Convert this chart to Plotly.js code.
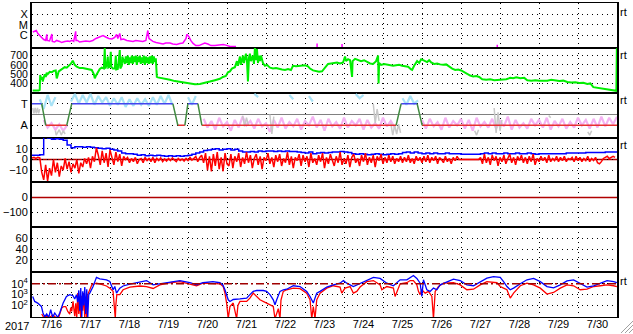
<!DOCTYPE html>
<html><head><meta charset="utf-8">
<script src="https://cdn.plot.ly/plotly-3.0.1.min.js"></script>
<style>html,body{margin:0;padding:0;background:#fff;overflow:hidden}#chart{width:633px;height:334px}</style>
</head><body><div id="chart"></div>
<script>
// ---------- axis labels ----------
const labelDays = [16,17,18,19,20,21,22,23,24,25,26,27,28,29,30];   // July days
const yearLabel = '2017';
const xrayTickVals = [1e-4, 1e-5, 1e-6];
const xrayTickText = ['X', 'M', 'C'];
const windTicks = [400, 500, 600, 700];
const sectorTickVals = [1, -1];
const sectorTickText = ['T', 'A'];
const imfTicks = [10, 0, -10];
const dstTicks = [0, -100];
const kpTicks = [20, 40, 60];
const elecTickVals = [100, 1000, 10000];
const elecTickText = ['10<sup>2</sup>', '10<sup>3</sup>', '10<sup>4</sup>'];
const electronAlert = 10000;
const zeroLevel = 0;

// panels 5 and 6 carry no data in this period
const dstDay = [], dstValue = [];
const kpDay = [], kpValue = [];

// ---------- X-ray flux (W/m2), time = day of July ----------
const xrayDay = [16.02,16.07,16.11,16.15,16.20,16.25,16.30,16.35,16.38,16.39,
 16.45,16.51,16.52,16.58,16.63,16.71,16.76,16.84,16.92,16.97,
 17.02,17.07,17.12,17.13,17.17,17.22,17.30,17.38,17.48,17.56,
 17.64,17.74,17.82,17.89,17.97,18.05,18.12,18.17,18.20,18.25,
 18.28,18.35,18.43,18.51,18.59,18.66,18.76,18.84,18.92,18.97,
 19.00,19.05,19.10,19.18,19.28,19.36,19.43,19.54,19.61,19.71,
 19.79,19.87,19.95,19.97,20.02,20.07,20.13,20.20,20.28,20.36,
 20.43,20.51,20.59,20.69,20.79,20.90,20.97,21.08,21.23];
const xrayFlux = [2.0e-6,2.3e-6,2.8e-6,1.45e-6,8.5e-7,6e-7,3.8e-7,3.1e-7,1.2e-6,3.1e-7,
 2.8e-7,1.3e-6,2.5e-7,2.2e-7,3.1e-7,2.5e-7,1.95e-7,2.5e-7,2.8e-7,2.5e-7,
 3.1e-7,2.5e-7,2.3e-6,3.1e-7,3.1e-7,2.2e-7,2.5e-7,2.8e-7,2.5e-7,3.1e-7,
 4.8e-7,7.5e-7,9.3e-7,6.7e-7,4.8e-7,4.3e-7,6e-7,1.2e-6,4.8e-7,1.45e-6,
 3.8e-7,4.3e-7,3.1e-7,2.8e-7,2.5e-7,3.1e-7,2.8e-7,2.5e-7,3.1e-7,2.8e-6,
 4.8e-7,3.1e-7,2.5e-7,1.95e-7,1.6e-7,1.4e-7,1.75e-7,1.75e-7,1.4e-7,1.26e-7,
 1.6e-7,1.75e-7,4.8e-7,1.2e-6,7.5e-7,3.1e-7,1.6e-7,1e-7,1e-7,1.4e-7,
 1.75e-7,1.4e-7,1e-7,1e-7,1.1e-7,1.26e-7,1.1e-7,8e-8,8e-8];
const xrayBlipDay = [23.31,23.31,null,23.95,23.95,null,27.93,27.93];
const xrayBlipFlux = [1.6e-7,7e-8,null,1.4e-7,7e-8,null,1.2e-7,7e-8];

// ---------- Solar wind speed (km/s) ----------
const windDay = [16.018,16.095,16.172,16.198,16.210,16.236,16.262,16.275,16.300,16.326,
 16.352,16.377,16.403,16.454,16.506,16.557,16.608,16.634,16.647,16.685,
 16.737,16.788,16.839,16.891,16.942,16.993,17.045,17.070,17.096,17.147,
 17.224,17.301,17.378,17.455,17.532,17.584,17.610,17.635,17.687,17.738,
 17.789,17.841,17.866,17.879,17.918,17.943,17.956,17.995,18.020,18.033,
 18.072,18.123,18.149,18.161,18.200,18.251,18.264,18.303,18.315,18.354,
 18.380,18.405,18.431,18.457,18.482,18.508,18.534,18.559,18.585,18.611,
 18.636,18.662,18.688,18.713,18.739,18.765,18.790,18.816,18.842,18.867,
 18.893,18.919,18.944,18.970,18.996,19.021,19.047,19.073,19.098,19.124,
 19.150,19.175,19.201,19.227,19.278,19.406,19.535,19.663,19.792,19.920,
 20.048,20.176,20.305,20.433,20.562,20.690,20.818,20.895,20.972,21.024,
 21.075,21.126,21.203,21.255,21.280,21.332,21.357,21.409,21.434,21.486,
 21.511,21.537,21.563,21.588,21.614,21.665,21.691,21.717,21.742,21.768,
 21.794,21.819,21.845,21.871,21.922,21.973,22.025,22.102,22.179,22.256,
 22.333,22.410,22.487,22.564,22.641,22.692,22.769,22.846,22.923,23.000,
 23.077,23.129,23.206,23.283,23.360,23.437,23.514,23.591,23.668,23.745,
 23.822,23.899,23.976,24.027,24.053,24.104,24.156,24.207,24.220,24.284,
 24.361,24.438,24.515,24.592,24.669,24.746,24.823,24.874,24.887,24.900,
 24.951,25.028,25.105,25.182,25.259,25.336,25.413,25.490,25.567,25.644,
 25.721,25.747,25.798,25.875,25.927,25.978,26.029,26.081,26.132,26.183,
 26.235,26.312,26.389,26.466,26.543,26.620,26.697,26.774,26.851,26.928,
 27.005,27.082,27.159,27.236,27.313,27.390,27.467,27.544,27.647,27.749,
 27.852,27.955,28.057,28.160,28.263,28.340,28.417,28.520,28.622,28.699,
 28.802,28.905,29.007,29.110,29.213,29.315,29.418,29.521,29.623,29.726,
 29.829,29.931,30.034,30.137,30.239,30.316,30.393,30.470,30.573,30.675,
 30.752,30.829,30.906,30.984,30.996];
const windSpeed = [325,322,325,330,490,440,470,420,480,500,
 470,515,500,525,520,535,540,455,470,530,
 545,560,575,570,590,610,645,620,600,580,
 565,565,560,555,545,500,455,480,520,555,
 570,560,780,560,600,690,570,580,740,580,
 560,560,700,550,555,760,560,590,690,640,
 610,690,620,700,600,680,620,700,610,690,
 630,700,600,690,630,700,610,680,620,700,
 600,690,620,680,610,690,620,700,610,690,
 630,670,470,465,462,455,440,425,415,405,
 395,390,395,405,420,435,450,470,480,520,
 530,560,575,640,590,690,600,700,620,720,
 650,420,680,720,640,700,610,790,650,770,
 620,700,640,700,620,590,600,570,560,565,
 555,550,545,555,545,590,585,590,590,595,
 585,560,540,535,525,530,575,610,615,620,
 625,615,625,690,640,660,650,470,640,665,
 650,640,650,630,615,610,640,700,400,620,
 600,610,605,595,590,595,600,590,585,580,
 550,545,590,640,620,660,650,640,630,650,
 625,610,615,605,600,605,580,560,545,550,
 540,520,500,485,475,480,470,445,440,445,
 435,440,440,445,460,455,465,455,460,435,
 430,435,430,432,428,440,430,425,430,415,
 410,412,405,408,395,400,360,355,350,345,
 340,330,322,320,780];

// ---------- IMF sector polarity (T = +1, A = -1) ----------
const sectorDay = [16.0,16.249,16.352,16.891,17.019,19.612,19.740,19.920,19.997,20.254,20.356,25.336,25.465,25.875,26.004,31.0];
const sectorPol = [1,1,-1,-1,1,1,-1,-1,1,1,-1,-1,1,1,-1,-1];

// IMF direction samples, every 0.1 day from July 16.0 (null = none)
const phiStartDay = 16.0, phiStepDay = 0.1;
const phiToward = [
 null,null,1.4,0.5,1.8,0.8,1.6,null,null,null,
 1.2,1.9,1.0,1.8,1.1,1.9,0.9,1.7,1.1,1.6,
 0.8,1.5,0.9,1.6,0.7,1.4,0.8,1.5,0.9,1.4,
 0.8,1.6,0.9,1.7,1.0,1.8,0.9,null,null,null,
 1.6,0.9,1.7,null,null,null,null,null,null,null,
 null,null,null,null,null,null,null,1.9,1.6,null,
 null,null,null,null,null,null,1.8,1.4,null,null,
 null,1.7,1.2,null,null,null,null,null,null,null,
 null,null,null,1.9,1.5,1.8,null,null,null,null,
 null,null,null,null,null,1.5,0.9,1.7,1.0,1.3];
const phiAway = [
 null,null,null,-0.5,-1.2,-0.8,-1.4,-0.9,-1.5,-1.0,
 null,null,null,null,null,null,null,null,null,null,
 null,null,null,null,null,null,null,null,null,null,
 null,null,null,null,null,null,null,null,null,null,
 null,null,null,null,-0.4,-1.2,-0.6,-1.4,-0.3,-1.1,
 -0.7,-1.5,-0.5,-1.2,-0.2,-1.0,-0.6,-1.3,-0.4,-1.1,
 -0.8,-1.6,-0.5,-1.2,-0.3,-1.3,-0.7,-1.1,-0.4,-1.4,
 -0.6,-1.0,-0.2,-1.2,-0.5,-1.5,-0.4,-1.1,-0.7,-1.3,
 -0.3,-1.2,-0.6,-1.0,-0.4,-1.4,-0.5,-1.2,-0.8,-1.3,
 -0.3,-1.1,-0.6,-1.2,null,null,null,null,null,null,
 -0.5,-1.3,-0.4,-1.1,-0.7,-1.4,-0.3,-1.2,-0.6,-1.0,
 -0.4,-1.3,-0.5,-1.5,-0.3,-1.1,-0.7,-1.2,-0.4,-1.3,
 -0.6,-1.1,-0.2,-1.4,-0.5,-1.2,-0.8,-1.3,-0.4,-1.0,
 -0.5,-1.2,-0.3,-1.4,-0.6,-1.1,-0.4,-1.3,-0.7,-1.2,
 -0.3,-1.0,-0.5,-1.3,-0.4,-1.2,-0.2,-1.1,-0.3,-0.9,
 -0.2];
const phiOtherDay = [16.02,16.05,16.08,16.11,16.14,16.17,16.20,null,
 16.60,16.62,16.70,16.75,16.80,16.85,null,
 21.40,21.45,21.50,21.55,null,22.10,22.15,22.20,null,
 24.75,24.80,24.85,24.90,null,25.20,25.25,25.30,25.35,25.40,25.45,null,
 27.35,27.40,27.45,null,27.85,27.90,27.95,28.00,28.05,null,
 29.25,29.30,null,30.25,30.30,30.35];
const phiOtherVal = [0.6,0.1,0.6,0.1,0.6,0.1,0.5,null,
 -1.5,-1.9,-1.4,-1.9,-1.5,-1.8,null,
 -0.1,-1.1,-0.3,-1.0,null,0.0,-1.8,-0.2,null,
 1.0,-0.8,0.5,-0.6,null,-0.8,-1.9,-1.0,-1.8,-0.9,-1.7,null,
 -1.5,-1.9,-1.4,null,0.6,-1.7,0.2,-1.5,-0.5,null,
 -0.1,-0.3,null,-1.6,-1.9,-1.5];

// ---------- IMF Bz and Bt (nT) ----------
const bzStartDay = 16.0, bzStepDay = 0.05;
const imfBz = [1.5,2,1,2,1.5,
 -12,-19,-5,-20,
 -8,-15,0,-12,-3,-16,-6,-10,1,
 -9,-2,-12,-4,-8,0,-13,-3,-7,1,
 -4,2,-8,3,-2,11,4,-5,
 8,-3,6,-7,9,2,-5,7,-2,5,-6,3,0,
 2,-3,1,-2,2,-4,0,1,-3,2,-1,1,-2,2,-3,1,
 -1,1.5,-2,0.5,-1.5,1,-1,1.5,-0.5,-2,1,-1,0.5,-1.5,1,-1,2,-0.5,1,3,-2,2,4,-3,
 6,-10,3,-11,5,-6,7,-9,2,-11,6,-4,
 -6,5,-8,3,-2,6,-7,2,-4,7,
 -3,4,-8,1,5,-5,3,-9,2,-1,
 6,-4,2,-7,4,-2,5,-6,1,-3,
 7,-5,3,-8,2,-1,5,-6,4,-2,
 3,-7,6,-3,1,-5,4,-2,6,-8,
 2,-4,5,-1,-6,3,-3,7,-5,1,
 -4,4,-7,2,5,-3,1,-6,4,-2,
 6,-5,2,-3,4,-7,3,-1,5,-4,
 2,-3,4,-2,3,-4,1,-2,3,-3,
 2,-2,4,-3,1,-4,3,-1,2,-3,
 3,-2,4,-3,2,-1,3,-4,2,0,
 -3,3,-2,1,-4,2,-1,3,0,0,
 0,0,0,0,0,0,0,0,0,2,
 -4,5,-3,2,-5,4,-1,3,-6,2,
 -2,4,-4,1,5,-3,2,-5,3,-1,
 4,-3,2,-4,3,-2,5,-5,1,-2,
 3,-1,2,-3,4,-2,1,-1,3,-2,
 2,-1,3,-2,1,0,2,-2,3,-1,
 2,-2,1,-1,3,-2,1,-1,2,-3,
 -4,-2,1,2,3,1,2,3,2];
const btStartDay = 16.0, btStepDay = 0.1;
const imfBt = [4,4,4.5,21,20,19,19.5,19,18,13.5,
 11,12,12,11.5,12,11.5,11,10.5,10,10.5,
 9.5,9,8,6,5.5,5.5,5,4,4.5,3.5,
 4,3.5,4,3.5,3,3.5,3,3.5,3,3.5,
 4,5,6,7,8.5,9,9.5,10,9,9.5,
 10,9,9.5,8,7,7,7.5,7,8,7.5,
 8,8,7.5,8,7.5,8,7.5,7.5,7,6.5,
 6,7,5.5,6,6.5,6,6.5,7,7,7.5,
 7,6.5,5.5,5,5.5,5,4.5,5,5.5,5,
 4.5,5,5.5,5,5.5,6.5,7,6,7,6,
 5.5,6,5.5,6,5.5,5.5,6,5.5,5.5,5.5,
 5,5,5,5,5,5.5,6,5.5,6,5.5,
 5.5,6,5.5,5.5,6,5.5,5.5,6,5.5,5,
 5.5,5.5,5.5,5.5,5.5,5.5,5.5,6,6,6,
 6,6,6.5,6.5,6.5,6.5,6.5,7,7,7,
 7];

// ---------- Electron flux (two channels) ----------
const elecADay = [16.018,16.069,16.146,16.241,16.282,16.326,16.377,16.429,16.480,16.531,
 16.583,16.660,16.711,16.796,16.883,16.968,17.052,17.096,17.140,17.173,
 17.199,17.224,17.250,17.276,17.301,17.327,17.353,17.378,17.404,17.430,
 17.455,17.481,17.566,17.653,17.738,17.910,17.995,18.038,18.079,18.123,
 18.167,18.251,18.336,18.508,18.765,18.937,19.106,19.278,19.535,19.792,
 20.048,20.220,20.382,20.639,20.818,20.895,20.947,20.990,21.031,21.075,
 21.160,21.332,21.504,21.588,21.673,21.760,21.930,22.017,22.102,22.187,
 22.230,22.274,22.359,22.443,22.531,22.700,22.872,23.044,23.129,23.213,
 23.257,23.301,23.386,23.558,23.727,23.899,23.984,24.071,24.240,24.412,
 24.584,24.754,24.926,25.098,25.267,25.354,25.439,25.611,25.780,25.868,
 25.952,25.996,26.037,26.124,26.209,26.294,26.381,26.466,26.638,26.807,
 26.979,27.151,27.320,27.492,27.664,27.834,28.006,28.091,28.178,28.263,
 28.348,28.520,28.692,28.861,29.033,29.205,29.374,29.546,29.718,29.887,
 30.059,30.231,30.401,30.573,30.745,30.914,30.997];
const elecAFlux = [676,234,166,81,20,9,16,8,40,8,
 20,8,20,158,676,977,794,398,1000,200,
 2512,32,3981,8,1995,100,5012,16,3162,8,
 1000,1380,5623,39810,28840,23440,16220,6607,2818,5623,
 1380,3981,6310,9333,15850,19950,7943,10000,15850,19950,
 12590,7943,12590,15850,12590,7943,2818,1000,331,234,
 355,398,479,1000,1995,2400,2400,1995,1000,331,
 115,331,1995,2818,3162,6607,5623,1995,676,166,
 398,1380,1995,5012,7943,11480,19950,11480,5623,11480,
 23440,39810,31620,11480,6607,11480,23440,23440,58880,31620,
 11480,676,23440,2818,1995,3981,2818,7943,15850,26920,
 19950,7943,6607,15850,33110,46770,39810,15850,5623,2818,
 3981,10000,23440,31620,15850,5623,4266,7943,18620,23440,
 10000,5012,6607,11480,19950,15850,12590];
const elecBDay = [16.249,16.300,16.377,16.454,16.531,16.608,16.685,16.762,16.814,16.865,
 16.917,16.968,16.993,17.019,17.052,17.096,17.122,17.147,17.173,17.199,
 17.224,17.250,17.276,17.301,17.327,17.353,17.378,17.404,17.430,17.481,
 17.532,17.653,17.738,17.910,17.995,18.079,18.110,18.123,18.136,18.149,
 18.174,18.251,18.336,18.508,18.765,18.937,19.106,19.278,19.535,19.792,
 20.048,20.220,20.382,20.646,20.818,20.903,20.947,20.990,21.031,21.075,
 21.160,21.203,21.247,21.280,21.332,21.504,21.588,21.673,21.760,21.845,
 22.017,22.187,22.230,22.282,22.315,22.359,22.384,22.443,22.531,22.700,
 22.872,23.044,23.129,23.173,23.213,23.257,23.301,23.386,23.558,23.727,
 23.899,23.942,24.027,24.156,24.240,24.327,24.412,24.584,24.754,24.926,
 24.969,25.098,25.267,25.310,25.439,25.611,25.696,25.780,25.868,25.909,
 25.952,25.996,26.081,26.166,26.253,26.294,26.338,26.423,26.551,26.807,
 26.979,27.151,27.320,27.492,27.664,27.921,28.006,28.091,28.178,28.263,
 28.348,28.520,28.692,28.861,29.033,29.205,29.374,29.546,29.718,29.887,
 30.059,30.231,30.401,30.573,30.745,30.914,30.997];
const elecBFlux = [16,8,10,8,13,8,8,58,79,79,
 28,16,63,28,234,10,158,6,1380,16,
 316,6,794,32,1380,6,398,6,1000,3162,
 7943,11480,10000,6310,3981,1995,100,6,6,100,
 1000,1000,2818,5012,6310,5623,3715,7943,12590,15850,
 10000,6607,11480,11480,10000,5623,1380,166,6,79,
 166,32,6,100,234,234,479,1380,676,331,
 166,79,6,32,50,6,316,1995,2818,3981,
 3548,1380,331,6,79,6,331,1380,3981,6607,
 5012,1380,3981,5623,1380,1995,5012,15850,19950,7943,
 2818,5623,3981,676,10000,12590,19950,19950,7943,1995,
 1000,2818,1380,1995,676,6,1995,5623,11480,12590,
 7943,2818,3162,7943,15850,12590,5623,3981,2818,479,
 1380,6607,11480,7943,3981,1122,1585,3981,7943,6607,
 2818,3162,5623,6607,7943,6607,5623];

// ---------- build ----------
const daysFrom = (start, step, n) => Array.from({length: n}, (_, i) => +(start + i * step).toFixed(3));
const line = (x, y, yaxis, color, width, extra) => Object.assign({
  type: 'scatter', mode: 'lines', x: x, y: y, xaxis: 'x', yaxis: yaxis,
  line: {color: color, width: width}, hoverinfo: 'skip', connectgaps: false
}, extra || {});

// sector line split into toward / away / transition pieces
const seg = {T: {x: [], y: []}, A: {x: [], y: []}, X: {x: [], y: []}};
for (let i = 0; i < sectorDay.length - 1; i++) {
  const a = sectorPol[i], b = sectorPol[i + 1];
  const k = a === b ? (a > 0 ? 'T' : 'A') : 'X';
  seg[k].x.push(sectorDay[i], sectorDay[i + 1], null);
  seg[k].y.push(a, b, null);
}

const traces = [
  line(xrayDay, xrayFlux, 'y', '#ff00ff', 1.5),
  line(xrayBlipDay, xrayBlipFlux, 'y', '#ff00ff', 1.5),
  line(windDay, windSpeed, 'y2', '#00ee00', 2),
  line(daysFrom(phiStartDay, phiStepDay, phiAway.length), phiAway, 'y3', '#f4b2f2', 2.2),
  line(daysFrom(phiStartDay, phiStepDay, phiToward.length), phiToward, 'y3', '#a8e2f6', 2.2),
  line(phiOtherDay, phiOtherVal, 'y3', '#c8c8c8', 1.5),
  line(seg.T.x, seg.T.y, 'y3', '#4444ee', 1.5),
  line(seg.A.x, seg.A.y, 'y3', '#e83030', 1.5),
  line(seg.X.x, seg.X.y, 'y3', '#3f8a3f', 1.5),
  line(daysFrom(btStartDay, btStepDay, imfBt.length), imfBt, 'y4', '#0000ff', 1.5, {line: {color: '#0000ff', width: 1.5, shape: 'hv'}}),
  line(daysFrom(bzStartDay, bzStepDay, imfBz.length), imfBz, 'y4', '#ff0000', 1.5),
  line(dstDay, dstValue, 'y5', '#000000', 1),
  line(kpDay, kpValue, 'y6', '#000000', 1),
  line(elecBDay, elecBFlux, 'y7', '#ff0000', 1.3),
  line(elecADay, elecAFlux, 'y7', '#0000ff', 1.3)
];

const FONT = {family: 'Liberation Sans, Arial, Helvetica, sans-serif', size: 11, color: '#000'};
const DOT = '1px,4px';
function yax(i, extra) {
  return Object.assign({
    domain: [1 - i / 7, 1 - (i - 1) / 7], anchor: 'x',
    showline: true, mirror: true, linecolor: '#000', linewidth: 2,
    ticks: '', tickfont: FONT, zeroline: false, fixedrange: true,
    showgrid: true, gridcolor: '#000', gridwidth: 1, griddash: DOT, tickmode: 'array'
  }, extra);
}
const zeroRule = (yref, layer) => ({type: 'line', xref: 'paper', x0: 0, x1: 1, yref: yref,
  y0: zeroLevel, y1: zeroLevel, layer: layer, line: {color: '#b00000', width: 1.5}});

const layout = {
  width: 633, height: 334,
  margin: {l: 32, r: 16, t: 3, b: 17},
  paper_bgcolor: '#fff', plot_bgcolor: '#fff',
  showlegend: false, hovermode: false,
  font: FONT,
  xaxis: {
    range: [16, 31], anchor: 'y7', fixedrange: true,
    showline: true, mirror: 'all', linecolor: '#000', linewidth: 1,
    ticks: '', tickmode: 'array', ticklabelstandoff: -3,
    tickvals: labelDays.map(d => d + 0.5),
    ticktext: labelDays.map(d => '7/' + d),
    tickfont: FONT, showgrid: false, zeroline: false,
    minor: {tickmode: 'array', tickvals: labelDays.slice(1), showgrid: true,
            gridcolor: '#000', gridwidth: 1, griddash: DOT, ticks: ''}
  },
  yaxis: yax(1, {type: 'log', range: [-7.22, -2.91], tickvals: xrayTickVals, ticktext: xrayTickText}),
  yaxis2: yax(2, {range: [300, 783], tickvals: windTicks,
                  tickfont: {family: FONT.family, size: 10.5, color: '#000'}}),
  yaxis3: yax(3, {range: [-2.13, 2.01], tickvals: sectorTickVals, ticktext: sectorTickText,
                  zeroline: true, zerolinecolor: '#808080', zerolinewidth: 1.5}),
  yaxis4: yax(4, {range: [-21.4, 20.5], tickvals: imfTicks}),
  yaxis5: yax(5, {range: [-200, 100], tickvals: dstTicks}),
  yaxis6: yax(6, {range: [-2.7, 80.3], tickvals: kpTicks}),
  yaxis7: yax(7, {type: 'log', range: [0.93, 5.08], tickvals: elecTickVals, ticktext: elecTickText}),
  shapes: [
    zeroRule('y4', 'below'),
    zeroRule('y5', 'above'),
    {type: 'line', xref: 'paper', x0: 0, x1: 1, yref: 'y7', y0: electronAlert, y1: electronAlert,
     line: {color: '#a00000', width: 1.5, dash: '8px,3px,2px,3px'}},
    {type: 'line', xref: 'paper', yref: 'paper', x0: 1.0274, y0: -0.0128, x1: 1.0068, y1: -0.0510, line: {color: '#a0a0a0', width: 1}},
    {type: 'line', xref: 'paper', yref: 'paper', x0: 1.0274, y0: -0.0255, x1: 1.0137, y1: -0.0510, line: {color: '#a0a0a0', width: 1}},
    {type: 'line', xref: 'paper', yref: 'paper', x0: 1.0274, y0: -0.0382, x1: 1.0205, y1: -0.0510, line: {color: '#a0a0a0', width: 1}}
  ],
  annotations: [
    {text: yearLabel, xref: 'paper', yref: 'paper', x: 0, y: 0, xanchor: 'right', yanchor: 'top',
     xshift: -1, yshift: -1, showarrow: false, font: FONT},
    ...[0.971, 0.834, 0.691, 0.548, 0.115].map(y => ({
      text: 'rt', xref: 'paper', yref: 'paper', x: 1, y: y, xanchor: 'left', yanchor: 'middle',
      xshift: 1, showarrow: false, font: {family: FONT.family, size: 11, color: '#000'}}))
  ]
};

Plotly.newPlot('chart', traces, layout, {staticPlot: true, displayModeBar: false});
</script></body></html>
